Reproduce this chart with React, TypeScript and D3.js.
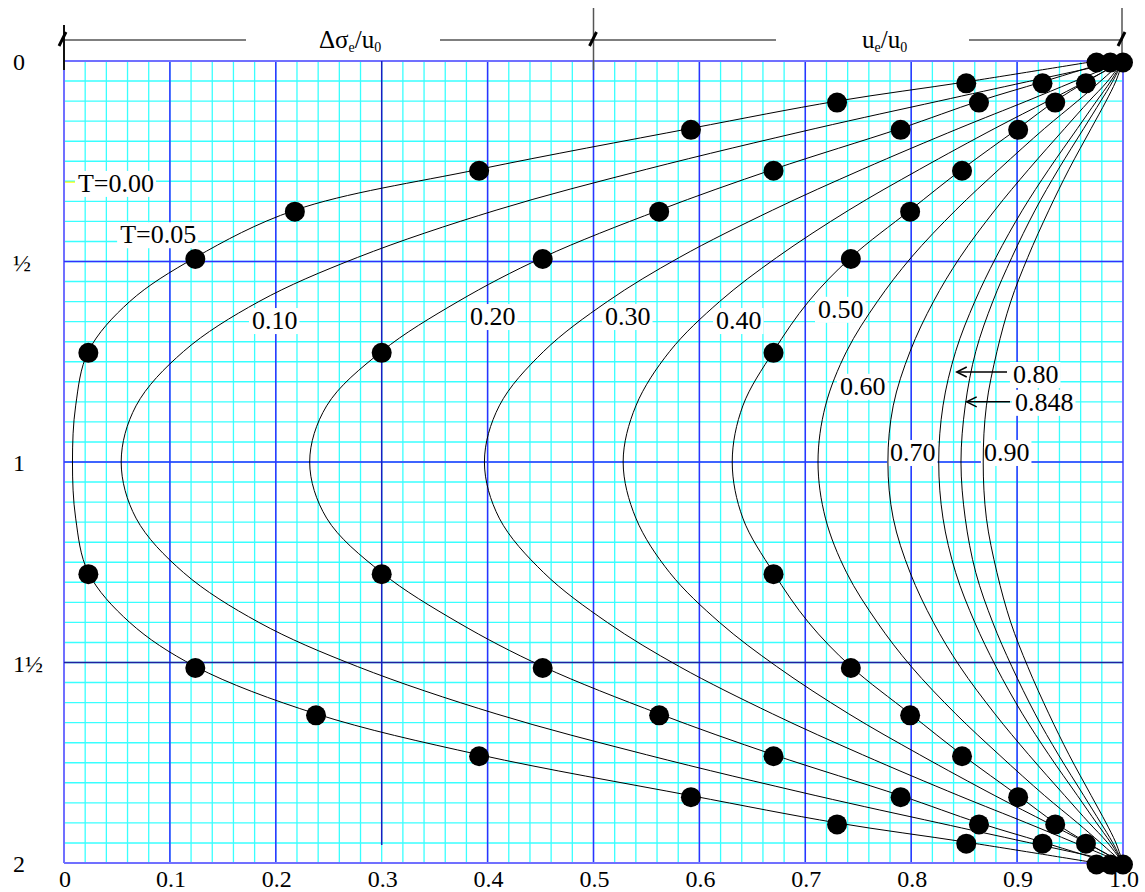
import React, { useEffect, useRef } from 'react';
import * as d3 from 'd3';

// depth rows z/H at which the isochrones were read
const zRows = [0, 0.052, 0.1, 0.168, 0.27, 0.372, 0.49, 0.6, 0.724, 0.86, 1, 1.14, 1.276, 1.4, 1.51, 1.628, 1.73, 1.832, 1.9, 1.948, 2];

const T005 = [0.975, 0.852, 0.73, 0.592, 0.392, 0.218, 0.124, 0.062, 0.023, 0.011, 0.008, 0.011, 0.023, 0.062, 0.124, 0.238, 0.392, 0.592, 0.73, 0.852, 0.975];
const T010 = [1, 0.909, 0.826, 0.71, 0.55, 0.408, 0.277, 0.184, 0.113, 0.068, 0.054, 0.068, 0.113, 0.184, 0.277, 0.408, 0.55, 0.71, 0.826, 0.909, 1];
const T020 = [0.988, 0.924, 0.864, 0.79, 0.67, 0.562, 0.452, 0.372, 0.3, 0.248, 0.232, 0.248, 0.3, 0.372, 0.452, 0.562, 0.67, 0.79, 0.864, 0.924, 0.988];
const T030 = [1, 0.953, 0.909, 0.845, 0.754, 0.669, 0.581, 0.513, 0.453, 0.411, 0.397, 0.411, 0.453, 0.513, 0.581, 0.669, 0.754, 0.845, 0.909, 0.953, 1];
const T040 = [1, 0.964, 0.929, 0.879, 0.808, 0.741, 0.673, 0.619, 0.572, 0.54, 0.528, 0.54, 0.572, 0.619, 0.673, 0.741, 0.808, 0.879, 0.929, 0.964, 1];
const T050 = [1, 0.965, 0.936, 0.901, 0.848, 0.799, 0.743, 0.703, 0.67, 0.641, 0.631, 0.641, 0.67, 0.703, 0.743, 0.799, 0.848, 0.901, 0.936, 0.965, 1];
const T060 = [1, 0.978, 0.957, 0.926, 0.883, 0.842, 0.8, 0.768, 0.739, 0.719, 0.712, 0.719, 0.739, 0.768, 0.8, 0.842, 0.883, 0.926, 0.957, 0.978, 1];
const T070 = [1, 0.985, 0.968, 0.945, 0.911, 0.879, 0.846, 0.821, 0.799, 0.783, 0.778, 0.783, 0.799, 0.821, 0.846, 0.879, 0.911, 0.945, 0.968, 0.985, 1];
const T080 = [1, 0.988, 0.975, 0.957, 0.93, 0.905, 0.88, 0.86, 0.842, 0.83, 0.826, 0.83, 0.842, 0.86, 0.88, 0.905, 0.93, 0.957, 0.975, 0.988, 1];
const T0848 = [1, 0.99, 0.979, 0.963, 0.939, 0.917, 0.895, 0.877, 0.861, 0.851, 0.847, 0.851, 0.861, 0.877, 0.895, 0.917, 0.939, 0.963, 0.979, 0.99, 1];
const T090 = [1, 0.993, 0.984, 0.97, 0.949, 0.93, 0.91, 0.894, 0.881, 0.871, 0.868, 0.871, 0.881, 0.894, 0.91, 0.93, 0.949, 0.97, 0.984, 0.993, 1];

// marked points
const dotZ = [0, 0.052, 0.1, 0.168, 0.27, 0.372, 0.49, 0.724, 1.276, 1.51, 1.628, 1.73, 1.832, 1.9, 1.948, 2];
const dots005 = [0.975, 0.852, 0.73, 0.592, 0.392, 0.218, 0.124, 0.023, 0.023, 0.124, 0.238, 0.392, 0.592, 0.73, 0.852, 0.975];
const dots020 = [0.988, 0.924, 0.864, 0.79, 0.67, 0.562, 0.452, 0.3, 0.3, 0.452, 0.562, 0.67, 0.79, 0.864, 0.924, 0.988];
const dots050 = [1.0, 0.965, 0.936, 0.901, 0.848, 0.799, 0.743, 0.67, 0.67, 0.743, 0.799, 0.848, 0.901, 0.936, 0.965, 1.0];

const xTickLabels = ['0', '0.1', '0.2', '0.3', '0.4', '0.5', '0.6', '0.7', '0.8', '0.9', '1.0'];
const yTickLabels = ['0', '½', '1', '1½', '2'];
const curveLabels = ['T=0.00', 'T=0.05', '0.10', '0.20', '0.30', '0.40', '0.50', '0.60', '0.70', '0.90', '0.80', '0.848'];

const SERIF = "'Liberation Serif', 'DejaVu Serif', serif";

export default function App() {
  const ref = useRef<SVGSVGElement>(null);

  useEffect(() => {
    const svg = d3.select(ref.current);
    svg.selectAll('*').remove();
    const x = d3.scaleLinear().domain([0, 1]).range([64, 1123]);
    const y = d3.scaleLinear().domain([0, 2]).range([61, 863]);

    const grid = svg.append('g');
    // minor grid
    grid.selectAll('line.mx').data(x.ticks(50)).enter().append('line')
      .attr('x1', d => x(d)).attr('x2', d => x(d)).attr('y1', y(0)).attr('y2', y(2))
      .attr('stroke', '#38ffff').attr('stroke-width', 1.3);
    grid.selectAll('line.my').data(y.ticks(40)).enter().append('line')
      .attr('y1', d => y(d)).attr('y2', d => y(d)).attr('x1', x(0)).attr('x2', x(1))
      .attr('stroke', '#38ffff').attr('stroke-width', 1.4);
    // major grid
    const isEdge = (d: number) => d === 0 || d === 1;
    const majX = x.ticks(10).filter(d => Math.abs(d - 0.3) > 1e-6);
    grid.selectAll('line.MX').data(majX).enter().append('line')
      .attr('x1', d => x(d)).attr('x2', d => x(d)).attr('y1', y(0)).attr('y2', y(2))
      .attr('stroke', d => (isEdge(d) ? '#7070ff' : '#3030ff'))
      .attr('stroke-width', d => (isEdge(d) ? 2 : 1.5));
    grid.selectAll('line.MY').data(y.ticks(4)).enter().append('line')
      .attr('y1', d => y(d)).attr('y2', d => y(d)).attr('x1', x(0)).attr('x2', x(1))
      .attr('stroke', d => (d === 0 || d === 2 ? '#7070ff' : d === 1.5 ? '#2020a0' : '#3030ff'))
      .attr('stroke-width', d => (d === 0 || d === 2 ? 2 : 1.5));
    // x = 0.3 line
    grid.append('line').attr('x1', x(0.3)).attr('x2', x(0.3)).attr('y1', y(0)).attr('y2', y(1.955))
      .attr('stroke', '#1c1cc0').attr('stroke-width', 1.5);

    // small yellow mark
    svg.append('line').attr('x1', x(0.001)).attr('x2', x(0.011)).attr('y1', y(0.302)).attr('y2', y(0.302))
      .attr('stroke', '#ffff00').attr('stroke-width', 1.2);

    // top annotation
    const top = svg.append('g').attr('stroke', '#555').attr('stroke-width', 1.5);
    top.append('line').attr('x1', x(0)).attr('x2', 246).attr('y1', 40).attr('y2', 40);
    top.append('line').attr('x1', 440).attr('x2', x(0.5)).attr('y1', 40).attr('y2', 40);
    top.append('line').attr('x1', x(0.5)).attr('x2', 776).attr('y1', 40).attr('y2', 40);
    top.append('line').attr('x1', 969).attr('x2', x(1)).attr('y1', 40).attr('y2', 40);
    top.append('line').attr('x1', x(0)).attr('x2', x(0)).attr('y1', 25).attr('y2', 70).attr('stroke', '#111').attr('stroke-width', 2);
    top.append('line').attr('x1', x(0.5)).attr('x2', x(0.5)).attr('y1', 8).attr('y2', 70);
    top.append('line').attr('x1', x(1) - 1).attr('x2', x(1) - 1).attr('y1', 8).attr('y2', 62);
    const slash = (sx: number) => {
      svg.append('line').attr('x1', sx - 4).attr('y1', 46).attr('x2', sx + 3).attr('y2', 32)
        .attr('stroke', '#000').attr('stroke-width', 3);
    };
    slash(x(0) - 1); slash(x(0.5)); slash(x(1) - 1);

    const t1 = svg.append('text').attr('x', 319).attr('y', 48).style('font-family', SERIF).style('font-size', '25px').attr('fill', '#000');
    t1.append('tspan').text('Δσ');
    t1.append('tspan').style('font-size', '14px').attr('dy', 4).text('e');
    t1.append('tspan').attr('dy', -4).text('/u');
    t1.append('tspan').style('font-size', '14px').attr('dy', 4).text('0');
    const t2 = svg.append('text').attr('x', 862).attr('y', 48).style('font-family', SERIF).style('font-size', '25px').attr('fill', '#000');
    t2.append('tspan').text('u');
    t2.append('tspan').style('font-size', '14px').attr('dy', 4).text('e');
    t2.append('tspan').attr('dy', -4).text('/u');
    t2.append('tspan').style('font-size', '14px').attr('dy', 4).text('0');

    // axis labels
    svg.selectAll('text.xl').data(x.ticks(10)).enter().append('text')
      .attr('x', d => x(d) + 1).attr('y', 887).attr('text-anchor', 'middle')
      .style('font-family', SERIF).style('font-size', '24px').attr('fill', '#000')
      .text((d, i) => xTickLabels[i]);
    svg.selectAll('text.yl').data(y.ticks(4)).enter().append('text')
      .attr('x', 13).attr('y', d => y(d) + 9).attr('text-anchor', 'start')
      .style('font-family', SERIF).style('font-size', '24px').attr('fill', '#000')
      .text((d, i) => yTickLabels[i]);

    // curve labels: positions (data units, left edge, vertical centre)
    const labelPos: [number, number][] = [
      [0.0132, 0.304], [0.053, 0.432], [0.1775, 0.646], [0.3834, 0.636], [0.5109, 0.636], [0.6157, 0.646],
      [0.712, 0.618], [0.7328, 0.81], [0.780, 0.975], [0.8687, 0.975], [0.8961, 0.7805], [0.898, 0.85],
    ];
    const boxes = svg.append('g');
    const curvesG = svg.append('g');
    const texts = svg.append('g');
    curveLabels.forEach((lab, i) => {
      const [lx, lz] = labelPos[i];
      const t = texts.append('text').attr('x', x(lx)).attr('y', y(lz) + 9)
        .style('font-family', SERIF).style('font-size', '26px').attr('fill', '#000').text(lab);
      const bb = (t.node() as SVGTextElement).getBBox();
      boxes.append('rect').attr('x', bb.x - 3).attr('y', bb.y + 2).attr('width', bb.width + 5).attr('height', bb.height - 3)
        .attr('fill', '#fff');
    });

    // curves
    const series = [T005, T010, T020, T030, T040, T050, T060, T070, T080, T0848, T090];
    const line = d3.line<number>()
      .x(d => x(d))
      .y((d, i) => y(zRows[i]))
      .curve(d3.curveCatmullRom.alpha(0.5));
    curvesG.selectAll('path').data(series).enter().append('path')
      .attr('d', d => line(d) as string)
      .attr('fill', 'none').attr('stroke', '#000').attr('stroke-width', 1);

    // arrows
    const arrow = (tipX: number, tailX: number, z: number) => {
      const ty = y(z);
      const g = svg.append('g').attr('stroke', '#000').attr('stroke-width', 1.5).attr('fill', 'none');
      g.append('line').attr('x1', x(tipX)).attr('x2', x(tailX)).attr('y1', ty).attr('y2', ty);
      g.append('polyline').attr('points', `${x(tipX) + 10},${ty - 5} ${x(tipX)},${ty} ${x(tipX) + 10},${ty + 5}`);
    };
    arrow(0.843, 0.8905, 0.7756);
    arrow(0.8524, 0.8933, 0.85);

    // dots
    const dg = svg.append('g');
    [dots005, dots020, dots050].forEach(arr => {
      dg.selectAll(null).data(arr).enter().append('circle')
        .attr('cx', d => x(d)).attr('cy', (d, i) => y(dotZ[i]) + 1.5)
        .attr('r', 10).attr('fill', '#000');
    });
  }, []);

  return (
    <svg ref={ref} width={1145} height={892}
      style={{ position: 'absolute', left: 0, top: 0, background: '#fff' }} />
  );
}
